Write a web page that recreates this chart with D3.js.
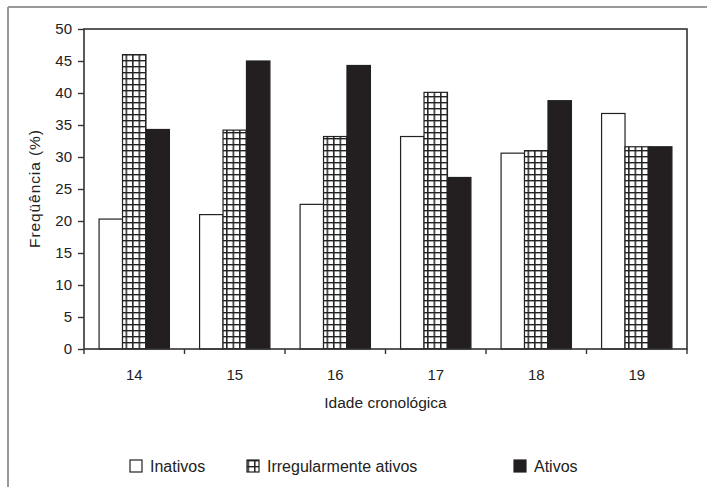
<!DOCTYPE html>
<html>
<head>
<meta charset="utf-8">
<script src="https://cdn.jsdelivr.net/npm/d3@7"></script>
<style>
  body { margin: 0; background: #fff; }
  text { font-family: "Liberation Sans", Arial, sans-serif; fill: #222; }
</style>
</head>
<body>
<div id="chart"></div>
<script>
// chart values
const ages = ['14', '15', '16', '17', '18', '19'];
const series = ['Inativos', 'Irregularmente ativos', 'Ativos'];
const inativos = [20.3, 21.0, 22.6, 33.2, 30.6, 36.8];
const irregulares = [46.0, 34.2, 33.2, 40.1, 31.0, 31.6];
const ativos = [34.3, 45.0, 44.3, 26.8, 38.8, 31.6];
const yTicks = [0, 5, 10, 15, 20, 25, 30, 35, 40, 45, 50];

const width = 707;
const height = 487;

const svg = d3.select('#chart')
    .append('svg')
    .attr('width', width)
    .attr('height', height);

// grid pattern for the "irregularmente ativos" bars
const defs = svg.append('defs');
const pat = defs.append('pattern')
    .attr('id', 'grid')
    .attr('patternUnits', 'userSpaceOnUse')
    .attr('width', 6.5)
    .attr('height', 6)
    .attr('x', 0.5)
    .attr('y', 0);
pat.append('rect').attr('width', 6.5).attr('height', 6).attr('fill', '#fff');
pat.append('rect').attr('width', 1.5).attr('height', 6).attr('fill', '#222');
pat.append('rect').attr('width', 6.5).attr('height', 1.4).attr('fill', '#222');

const fills = ['#fff', 'url(#grid)', '#231f20'];

// outer frame (top and left only)
svg.append('line').attr('x1', 8).attr('x2', width).attr('y1', 7).attr('y2', 7)
    .attr('stroke', '#999').attr('stroke-width', 2);
svg.append('line').attr('x1', 8).attr('x2', 8).attr('y1', 7).attr('y2', height)
    .attr('stroke', '#999').attr('stroke-width', 2);

const margin = { top: 29, right: 20, bottom: 138, left: 84 };
const plot = {
    left: margin.left,
    right: width - margin.right,
    top: margin.top,
    bottom: height - margin.bottom,
};

const x0 = d3.scaleBand()
    .domain(ages)
    .range([plot.left, plot.right])
    .paddingInner(0.3)
    .paddingOuter(0.15);

const x1 = d3.scaleBand()
    .domain(series)
    .range([0, x0.bandwidth()]);

const yScale = d3.scaleLinear().domain([0, 50]).range([plot.bottom, plot.top]);

const rows = ages.map((age, i) => ({
    age,
    values: [inativos[i], irregulares[i], ativos[i]],
}));

// bars
const groups = svg.append('g')
    .selectAll('g')
    .data(rows)
    .join('g')
    .attr('transform', (d) => `translate(${x0(d.age)},0)`);

groups.selectAll('rect')
    .data((d) => d.values.map((v, j) => ({ key: series[j], v, j })))
    .join('rect')
    .attr('x', (d) => x1(d.key))
    .attr('y', (d) => yScale(d.v))
    .attr('width', x1.bandwidth())
    .attr('height', (d) => yScale(0) - yScale(d.v))
    .attr('fill', (d) => fills[d.j])
    .attr('stroke', '#222')
    .attr('stroke-width', 1.2);

// plot frame
svg.append('rect')
    .attr('x', plot.left)
    .attr('y', plot.top)
    .attr('width', plot.right - plot.left)
    .attr('height', plot.bottom - plot.top)
    .attr('fill', 'none')
    .attr('stroke', '#333')
    .attr('stroke-width', 1.6);

// y axis
const yAxis = svg.append('g')
    .attr('transform', `translate(${plot.left},0)`)
    .call(d3.axisLeft(yScale).tickValues(yTicks).tickSize(6).tickPadding(6));
yAxis.select('.domain').remove();
yAxis.selectAll('line').attr('stroke', '#333').attr('stroke-width', 1.4);
yAxis.selectAll('text').style('font-size', '15px').attr('fill', '#222');

// x axis: ticks on category boundaries, labels at centres
const step = x0.step();
const bounds = d3.range(ages.length + 1).map((i) => plot.left + i * step);
svg.append('g')
    .selectAll('line')
    .data(bounds)
    .join('line')
    .attr('x1', (d) => d).attr('x2', (d) => d)
    .attr('y1', plot.bottom).attr('y2', plot.bottom + 5)
    .attr('stroke', '#333').attr('stroke-width', 1.4);

svg.append('g')
    .selectAll('text')
    .data(ages)
    .join('text')
    .attr('x', (d) => x0(d) + x0.bandwidth() / 2)
    .attr('y', plot.bottom + 31)
    .attr('text-anchor', 'middle')
    .style('font-size', '15px')
    .text((d) => d);

svg.append('text')
    .attr('x', (plot.left + plot.right) / 2)
    .attr('y', 408)
    .attr('text-anchor', 'middle')
    .style('font-size', '15.5px')
    .text('Idade cronológica');

svg.append('text')
    .attr('transform', `translate(40,${(plot.top + plot.bottom) / 2}) rotate(-90)`)
    .attr('text-anchor', 'middle')
    .attr('textLength', 118)
    .style('font-size', '15.5px')
    .text('Freqüência (%)');

// legend
const legendX = [130, 247, 514];
const legend = svg.append('g')
    .selectAll('g')
    .data(series)
    .join('g')
    .attr('transform', (d, i) => `translate(${legendX[i]},460)`);

legend.append('rect')
    .attr('width', 12)
    .attr('height', 12)
    .attr('fill', (d, i) => fills[i])
    .attr('stroke', '#222')
    .attr('stroke-width', 1.2);

legend.append('text')
    .attr('x', 20)
    .attr('y', 12)
    .style('font-size', '16px')
    .text((d) => d);
</script>
</body>
</html>
